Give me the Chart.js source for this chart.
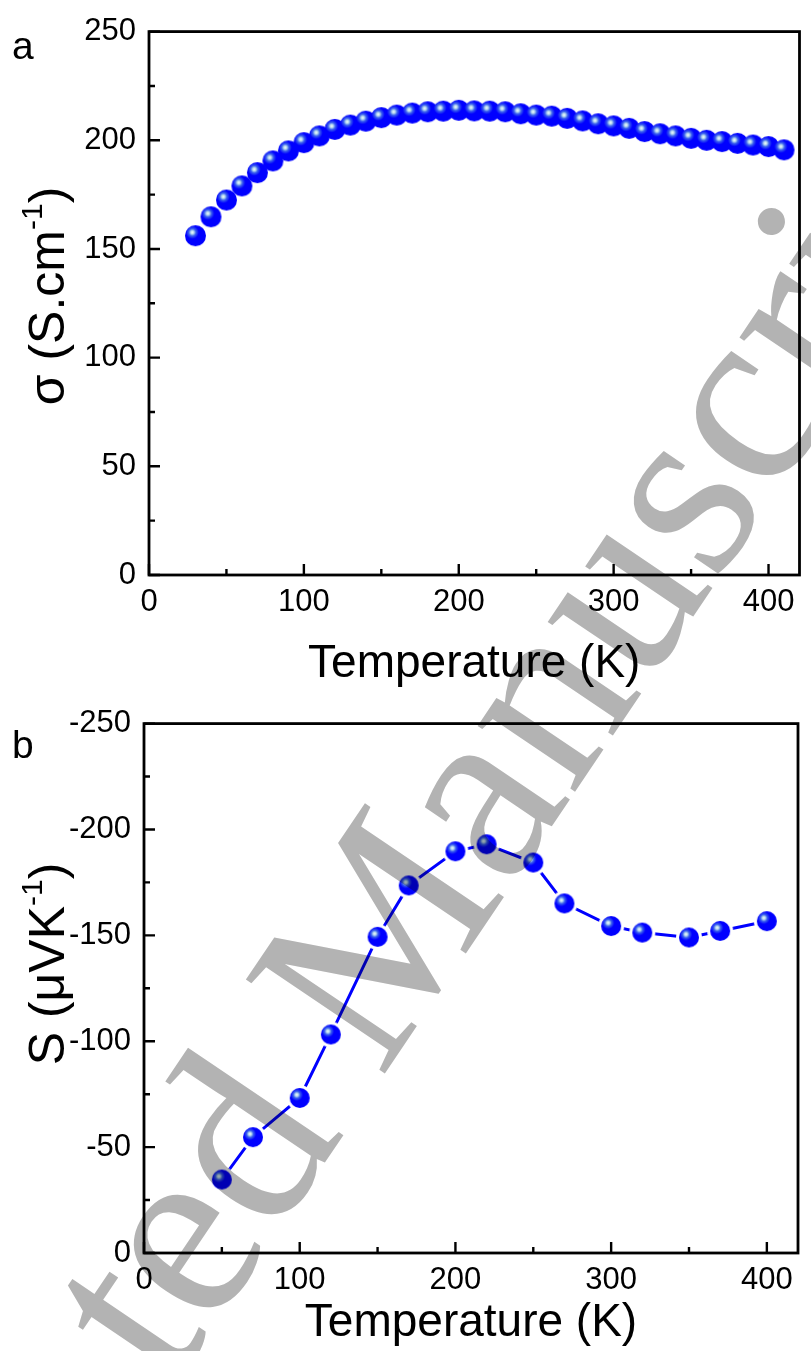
<!DOCTYPE html>
<html>
<head>
<meta charset="utf-8">
<script src="https://cdn.jsdelivr.net/npm/chart.js@4.4.0/dist/chart.umd.min.js"></script>
<style>
  html, body { margin: 0; padding: 0; background: #fff; }
  #wrap { position: relative; width: 811px; height: 1351px; overflow: hidden; background: #fff; }
  #chartA { position: absolute; left: 0; top: 0; }
  #chartB { position: absolute; left: 0; top: 692px; }
  #mark { position: absolute; left: 0; top: 0; mix-blend-mode: multiply; pointer-events: none; }
</style>
</head>
<body>
<div id="wrap">
  <canvas id="chartA" width="811" height="692"></canvas>
  <canvas id="chartB" width="811" height="659"></canvas>
  <svg id="mark" width="811" height="1351">
    <text id="markText" font-family="Liberation Serif" font-size="256" fill="#b3b3b3">Accepted Manuscript</text>
  </svg>
</div>
<script>
// panel a: conductivity vs temperature
const tempA = [30, 40, 50, 60, 70, 80, 90, 100, 110, 120, 130, 140, 150, 160, 170, 180, 190, 200, 210, 220,
  230, 240, 250, 260, 270, 280, 290, 300, 310, 320, 330, 340, 350, 360, 370, 380, 390, 400, 410];
const sigma = [156.1, 164.8, 172.5, 179.0, 185.1, 190.5, 195.1, 198.9, 202.0, 205.0, 207.0, 208.8, 210.4, 211.6,
  212.5, 213.1, 213.4, 213.8, 213.5, 213.4, 213.1, 212.2, 211.6, 211.1, 210.1, 208.9, 207.6, 206.6, 205.5, 204.0,
  203.0, 202.0, 200.9, 200.0, 199.4, 198.6, 197.8, 197.1, 195.6];

// panel b: Seebeck coefficient vs temperature
const tempB = [50, 70, 100, 120, 150, 170, 200, 220, 250, 270, 300, 320, 350, 370, 400];
const seebeck = [-34.7, -54.7, -73.2, -103.2, -149.3, -173.6, -189.7, -193.0, -184.4, -165.1, -154.4, -151.3,
  -149.0, -152.1, -156.7];

// ticks
const xTicks = [0, 100, 200, 300, 400];
const xMinor = [50, 150, 250, 350];
const yTicksA = [0, 50, 100, 150, 200, 250];
const yMinorA = [25, 75, 125, 175, 225];
const yTicksB = [-250, -200, -150, -100, -50, 0];
const yMinorB = [-225, -175, -125, -75, -25];

const fam = "'Liberation Sans', Arial, sans-serif";
const tickFont = { family: fam, size: 31 };
const titleFont = { family: fam, size: 46 };

function makeBall(r, ring) {
  const size = Math.ceil((r + ring + 1) * 2);
  const c = document.createElement("canvas");
  c.width = size;
  c.height = size;
  const g = c.getContext("2d");
  const m = size / 2;
  if (ring > 0) {
    g.fillStyle = "#ffffff";
    g.beginPath();
    g.arc(m, m, r + ring, 0, Math.PI * 2);
    g.fill();
  }
  const hx = m - r * 0.3, hy = m - r * 0.32;
  const grad = g.createRadialGradient(hx, hy, 0, hx, hy, r * 0.62);
  grad.addColorStop(0, "#f4fbff");
  grad.addColorStop(0.25, "#b4d8ee");
  grad.addColorStop(0.55, "#3a60ee");
  grad.addColorStop(1, "#0000ff");
  g.fillStyle = grad;
  g.beginPath();
  g.arc(m, m, r, 0, Math.PI * 2);
  g.fill();
  return c;
}

// rotated y title, pieces so that the "-1" can be a real superscript
function drawYTitle(ctx, parts, cx, cy) {
  ctx.save();
  ctx.translate(cx, cy);
  ctx.rotate(-Math.PI / 2);
  let total = 0;
  parts.forEach(p => {
    ctx.font = p.size + "px " + fam;
    p.w = ctx.measureText(p.text).width;
    total += p.w;
  });
  let x = -total / 2;
  ctx.textBaseline = "alphabetic";
  ctx.textAlign = "left";
  parts.forEach(p => {
    ctx.font = p.size + "px " + fam;
    ctx.fillText(p.text, x, 18 + p.rise);
    x += p.w;
  });
  ctx.restore();
}

// frame with inward ticks on bottom and left, panel letter and y title
const framePlugin = {
  id: "frame",
  afterDraw(chart, args, opts) {
    const { ctx, chartArea: a, scales } = chart;
    ctx.save();
    ctx.strokeStyle = "#000";
    ctx.lineWidth = 2.4;
    ctx.beginPath();
    opts.xMajor.forEach(v => {
      const px = scales.x.getPixelForValue(v);
      ctx.moveTo(px, a.bottom); ctx.lineTo(px, a.bottom - 11);
    });
    opts.xMinor.forEach(v => {
      const px = scales.x.getPixelForValue(v);
      ctx.moveTo(px, a.bottom); ctx.lineTo(px, a.bottom - 6);
    });
    opts.yMajor.forEach(v => {
      const py = scales.y.getPixelForValue(v);
      ctx.moveTo(a.left, py); ctx.lineTo(a.left + 11, py);
    });
    opts.yMinor.forEach(v => {
      const py = scales.y.getPixelForValue(v);
      ctx.moveTo(a.left, py); ctx.lineTo(a.left + 6, py);
    });
    ctx.stroke();
    ctx.lineWidth = 2.8;
    ctx.strokeRect(a.left, a.top, a.right - a.left, a.bottom - a.top);
    ctx.fillStyle = "#000";
    ctx.font = "39px " + fam;
    ctx.textBaseline = "alphabetic";
    ctx.fillText(opts.label, opts.lx, opts.ly);
    drawYTitle(ctx, opts.yTitle, opts.tx, opts.ty);
    ctx.restore();
  }
};

function axes(yMin, yMax, yTicks, reverse, yWidth, xHeight) {
  return {
    x: {
      type: "linear", min: 0, max: 420,
      afterBuildTicks: s => { s.ticks = xTicks.map(v => ({ value: v })); },
      afterFit: s => { s.height = xHeight; },
      grid: { display: false, drawTicks: false },
      border: { display: false },
      ticks: { color: "#000", font: tickFont, padding: 9, maxRotation: 0 },
      title: { display: true, text: "Temperature (K)", color: "#000", font: titleFont, padding: 0 }
    },
    y: {
      type: "linear", min: yMin, max: yMax, reverse: reverse,
      afterBuildTicks: s => { s.ticks = yTicks.map(v => ({ value: v })); },
      afterFit: s => { s.width = yWidth; },
      grid: { display: false, drawTicks: false },
      border: { display: false },
      ticks: { color: "#000", font: tickFont, padding: 13 }
    }
  };
}

new Chart(document.getElementById("chartA"), {
  type: "scatter",
  data: {
    datasets: [{
      data: tempA.map((t, i) => ({ x: t, y: sigma[i] })),
      pointStyle: makeBall(10.5, 0),
      pointRadius: 10.5,
      showLine: false
    }]
  },
  options: {
    responsive: false,
    animation: false,
    clip: false,
    layout: { padding: { top: 30, right: 1.5, left: 0, bottom: 0 } },
    scales: axes(0, 250, yTicksA, false, 149, 117),
    plugins: {
      legend: { display: false },
      tooltip: { enabled: false },
      frame: {
        xMajor: xTicks, xMinor: xMinor, yMajor: yTicksA, yMinor: yMinorA,
        label: "a", lx: 12, ly: 59,
        yTitle: [
          { text: "σ (S.cm", size: 50, rise: 0 },
          { text: "-1", size: 30, rise: -22 },
          { text: ")", size: 50, rise: 0 }
        ],
        tx: 46, ty: 296
      }
    }
  },
  plugins: [framePlugin]
});

new Chart(document.getElementById("chartB"), {
  type: "scatter",
  data: {
    datasets: [{
      data: tempB.map((t, i) => ({ x: t, y: seebeck[i] })),
      pointStyle: makeBall(10, 3),
      pointRadius: 10,
      showLine: true,
      borderColor: "#0000ff",
      borderWidth: 3
    }]
  },
  options: {
    responsive: false,
    animation: false,
    clip: false,
    layout: { padding: { top: 19, right: 1, left: 0, bottom: 0 } },
    scales: axes(-250, 0, yTicksB, true, 144, 98),
    plugins: {
      legend: { display: false },
      tooltip: { enabled: false },
      frame: {
        xMajor: xTicks, xMinor: xMinor, yMajor: yTicksB, yMinor: yMinorB,
        label: "b", lx: 12, ly: 66,
        yTitle: [
          { text: "S (μVK", size: 50, rise: 0 },
          { text: "-1", size: 30, rise: -22 },
          { text: ")", size: 50, rise: 0 }
        ],
        tx: 46, ty: 272
      }
    }
  },
  plugins: [framePlugin]
});

// "Accepted Manuscript" watermark, rotated along the page diagonal
const markAngle = 56;
const markSize = 256;
const rad = markAngle * Math.PI / 180;
const anchor = [338, 1143];
const back = 3.726 * markSize;
const bx = anchor[0] - back * Math.cos(rad);
const by = anchor[1] + back * Math.sin(rad);
document.getElementById("markText").setAttribute("transform",
  "translate(" + bx.toFixed(1) + "," + by.toFixed(1) + ") rotate(" + (-markAngle) + ")");
</script>
</body>
</html>
